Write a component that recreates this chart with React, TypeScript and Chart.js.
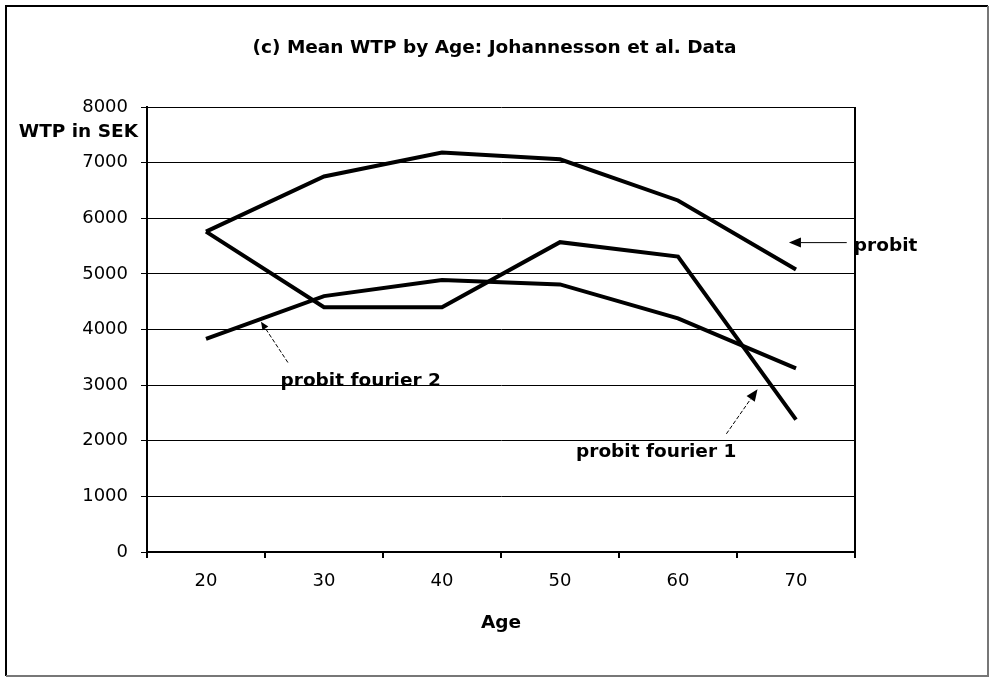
import React, { useEffect, useRef } from 'react';
import { Chart, registerables } from 'chart.js';

Chart.register(...registerables);

// ---- data ----
const ages = ['20', '30', '40', '50', '60', '70'];
const probit = [5760, 6750, 7180, 7060, 6320, 5080];
const probitFourier1 = [5760, 4400, 4400, 5570, 5310, 2380];
const probitFourier2 = [3830, 4600, 4890, 4810, 4200, 3300];
const seriesNames = ['probit', 'probit fourier 1', 'probit fourier 2'];
const yMin = 0;
const yMax = 8000;
const yStep = 1000;

// ---- text ----
const chartTitle = '(c) Mean WTP by Age: Johannesson et al. Data';
const xAxisTitle = 'Age';
const yAxisTitle = 'WTP in SEK';
const yAxisTitleValue = 7550;

// callouts: label anchor and arrow tail -> head, in (category index, WTP) units
const callouts = [
  { text: seriesNames[0], at: [5.49, 5490], align: 'left', tail: [5.43, 5562], head: [4.94, 5562], dashed: false, head_len: 12, head_w: 5 },
  { text: seriesNames[1], at: [3.815, 1791], align: 'center', tail: [4.41, 2124], head: [4.674, 2928], dashed: true, head_len: 12, head_w: 5 },
  { text: seriesNames[2], at: [1.311, 3078], align: 'center', tail: [0.694, 3407], head: [0.466, 4140], dashed: true, head_len: 8, head_w: 3.5 },
];

const FONT = "'DejaVu Sans', sans-serif";

const decorPlugin = {
  id: 'decor',
  afterDraw(chart: any) {
    const { ctx, chartArea, scales } = chart;
    const xs = scales.x;
    const ys = scales.y;
    ctx.save();
    // right edge of plot
    ctx.strokeStyle = '#000';
    ctx.lineWidth = 2;
    ctx.beginPath();
    ctx.moveTo(chartArea.right, chartArea.top);
    ctx.lineTo(chartArea.right, chartArea.bottom);
    ctx.stroke();

    // y axis title
    ctx.fillStyle = '#000';
    ctx.font = `bold 18.5px ${FONT}`;
    ctx.textAlign = 'right';
    ctx.textBaseline = 'middle';
    ctx.fillText(yAxisTitle, chartArea.left - 9, ys.getPixelForValue(yAxisTitleValue));

    // callouts
    for (const c of callouts) {
      const tx = xs.getPixelForValue(c.tail[0]);
      const ty = ys.getPixelForValue(c.tail[1]);
      const hx = xs.getPixelForValue(c.head[0]);
      const hy = ys.getPixelForValue(c.head[1]);
      const ang = Math.atan2(hy - ty, hx - tx);
      const bx = hx - Math.cos(ang) * c.head_len;
      const by = hy - Math.sin(ang) * c.head_len;
      ctx.strokeStyle = '#000';
      ctx.lineWidth = 1;
      ctx.setLineDash(c.dashed ? [4, 2] : []);
      ctx.beginPath();
      ctx.moveTo(tx, ty);
      ctx.lineTo(bx, by);
      ctx.stroke();
      ctx.setLineDash([]);
      ctx.beginPath();
      ctx.moveTo(hx, hy);
      ctx.lineTo(bx + Math.sin(ang) * c.head_w, by - Math.cos(ang) * c.head_w);
      ctx.lineTo(bx - Math.sin(ang) * c.head_w, by + Math.cos(ang) * c.head_w);
      ctx.closePath();
      ctx.fillStyle = '#000';
      ctx.fill();

      ctx.font = `bold 18.5px ${FONT}`;
      ctx.textAlign = c.align as CanvasTextAlign;
      ctx.textBaseline = 'middle';
      ctx.fillText(c.text, xs.getPixelForValue(c.at[0]), ys.getPixelForValue(c.at[1]));
    }

    // outer frame
    ctx.lineWidth = 2;
    ctx.strokeStyle = '#000';
    ctx.beginPath();
    ctx.moveTo(6, 676);
    ctx.lineTo(6, 6);
    ctx.lineTo(988, 6);
    ctx.stroke();
    ctx.strokeStyle = '#777';
    ctx.beginPath();
    ctx.moveTo(988, 6);
    ctx.lineTo(988, 676);
    ctx.lineTo(6, 676);
    ctx.stroke();
    ctx.restore();
  },
};

export default function App() {
  const canvasRef = useRef<HTMLCanvasElement | null>(null);

  useEffect(() => {
    if (!canvasRef.current) return;
    const mk = (label: string, data: number[]) => ({
      label,
      data,
      borderColor: '#000',
      backgroundColor: '#000',
      borderWidth: 4,
      pointRadius: 0,
      pointHoverRadius: 0,
      fill: false,
      tension: 0,
      yAxisID: 'y',
    });
    const chart = new Chart(canvasRef.current, {
      type: 'line',
      data: {
        labels: ages,
        datasets: [mk(seriesNames[0], probit), mk(seriesNames[1], probitFourier1), mk(seriesNames[2], probitFourier2)],
      },
      options: {
        responsive: false,
        animation: false,
        devicePixelRatio: 1,
        layout: { padding: 0 },
        plugins: {
          legend: { display: false },
          tooltip: { enabled: false },
          title: {
            display: true,
            text: chartTitle,
            color: '#000',
            font: { family: FONT, size: 18.5, weight: 'bold' },
            padding: { top: 37.4, bottom: 47.4 },
          },
        },
        scales: {
          x: {
            type: 'category',
            offset: true,
            grid: { offset: true, drawOnChartArea: false, drawTicks: true, tickLength: 6, color: '#000', lineWidth: 2 },
            border: { display: true, color: '#000', width: 2 },
            ticks: { padding: 13, color: '#000', font: { family: FONT, size: 18 }, maxRotation: 0, autoSkip: false },
            title: {
              display: true,
              text: xAxisTitle,
              color: '#000',
              font: { family: FONT, size: 18.5, weight: 'bold' },
              padding: { top: 0, bottom: 43 },
            },
            afterFit: (s: any) => { s.height = 125; },
          },
          y: {
            type: 'linear',
            position: 'left',
            min: yMin,
            max: yMax,
            grid: { color: '#000', lineWidth: 1, tickLength: 6, drawTicks: true },
            border: { display: true, color: '#000', width: 2 },
            ticks: {
              stepSize: yStep,
              padding: 13,
              color: '#000',
              font: { family: FONT, size: 18 },
              callback: (v: any) => String(v),
            },
            afterFit: (s: any) => { s.width = 147; },
          },
          yRight: {
            type: 'linear',
            position: 'right',
            display: true,
            min: yMin,
            max: yMax,
            grid: { display: false, drawOnChartArea: false, drawTicks: false },
            border: { display: false },
            ticks: { display: false },
            afterFit: (s: any) => { s.width = 134; },
          },
        },
      } as any,
      plugins: [decorPlugin],
    });
    return () => chart.destroy();
  }, []);

  return (
    <div style={{ position: 'absolute', left: 0, top: 0, width: 989, height: 677, background: '#fff' }}>
      <canvas ref={canvasRef} width={989} height={677} style={{ width: 989, height: 677, display: 'block' }} />
    </div>
  );
}
